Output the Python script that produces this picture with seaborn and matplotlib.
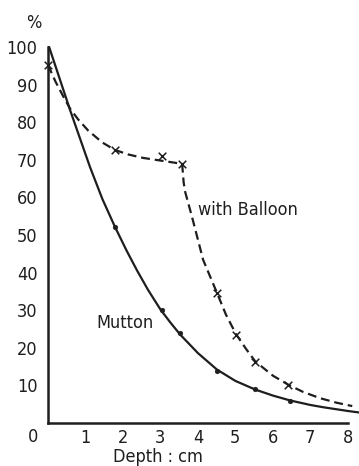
import matplotlib
matplotlib.use("Agg")
import matplotlib.pyplot as plt
import matplotlib.font_manager as fm
import seaborn as sns
import pandas as pd

# ---- data ----
mutton_curve_x = [0.03, 0.59, 1.12, 1.45, 1.79, 2.1, 2.38, 2.67, 3.0, 3.26, 3.52, 4.0, 4.51, 5.0, 5.53, 6.0, 6.46, 7.0, 7.34, 8.0, 8.3]
mutton_curve_y = [100, 83.2, 68.1, 59.6, 52.1, 45.8, 40.5, 35.4, 30.2, 26.8, 23.6, 18.6, 14.2, 11.2, 8.9, 7.3, 6.0, 4.8, 4.2, 3.2, 2.8]
mutton_pts_x = [1.79, 3.05, 3.52, 4.51, 5.53, 6.46]
mutton_pts_y = [52.1, 30.0, 23.9, 13.8, 9.0, 5.9]

balloon_curve_x = [0.0, 0.2, 0.4, 0.59, 0.8, 1.07, 1.45, 1.79, 2.15, 2.54, 3.0, 3.4, 3.58, 3.62, 3.66, 3.77, 3.87, 4.14, 4.51, 4.75, 5.02, 5.3, 5.53, 6.0, 6.41, 6.8, 7.26, 7.7, 8.12]
balloon_curve_y = [95.2, 90.8, 87.0, 83.6, 80.8, 77.8, 74.6, 72.6, 71.4, 70.5, 69.8, 69.2, 68.9, 64.0, 61.5, 57.5, 53.8, 43.4, 34.6, 28.8, 23.6, 19.5, 16.4, 12.6, 10.2, 8.3, 6.6, 5.4, 4.5]
balloon_pts_x = [0.0, 1.79, 3.05, 3.58, 4.51, 5.02, 5.53, 6.41]
balloon_pts_y = [95.2, 72.6, 71.0, 68.9, 34.6, 23.4, 16.2, 10.1]

x_ticks = [1, 2, 3, 4, 5, 6, 7, 8]
y_ticks = [10, 20, 30, 40, 50, 60, 70, 80, 90, 100]

sns.set_style("white")

# pick a condensed sans if one is installed
_names = {f.name for f in fm.fontManager.ttflist}
_dejavu_cond = any(f.name in ("DejaVu Sans", "DejaVu Sans Condensed") and f.stretch == "condensed"
                   for f in fm.fontManager.ttflist)
if "Liberation Sans Narrow" in _names:
    plt.rcParams['font.family'] = ['Liberation Sans Narrow', 'DejaVu Sans']
    FS = 15
elif "DejaVu Sans Condensed" in _names:
    plt.rcParams['font.family'] = ['DejaVu Sans Condensed', 'DejaVu Sans']
    plt.rcParams['font.stretch'] = 'condensed'
    FS = 13
elif _dejavu_cond:
    plt.rcParams['font.family'] = ['DejaVu Sans']
    plt.rcParams['font.stretch'] = 'condensed'
    FS = 13
else:
    plt.rcParams['font.family'] = ['Liberation Sans', 'DejaVu Sans']
    FS = 13

INK = "#1e1e1e"

fig = plt.figure(figsize=(3.59, 4.66), dpi=100)
ax = fig.add_axes([48 / 359, 43 / 466, 1 - 48 / 359, 376 / 466])

mc = pd.DataFrame({"x": mutton_curve_x, "y": mutton_curve_y})
bc = pd.DataFrame({"x": balloon_curve_x, "y": balloon_curve_y})
mp = pd.DataFrame({"x": mutton_pts_x, "y": mutton_pts_y})
bp = pd.DataFrame({"x": balloon_pts_x, "y": balloon_pts_y})

sns.lineplot(data=mc, x="x", y="y", ax=ax, color=INK, lw=1.6, sort=False,
             estimator=None, clip_on=False)
sns.lineplot(data=bc, x="x", y="y", ax=ax, color=INK, lw=1.6, sort=False,
             estimator=None, clip_on=False, dashes=False, linestyle=(0, (4, 2.2)))
sns.scatterplot(data=mp, x="x", y="y", ax=ax, color=INK, s=12, marker="o",
                edgecolor=INK, zorder=5, clip_on=False)
sns.scatterplot(data=bp, x="x", y="y", ax=ax, color=INK, s=30, marker="x",
                linewidth=1.1, zorder=5, clip_on=False)

ax.set_xlim(0, 8.3)
ax.set_ylim(0, 100)
for s in ["top", "right"]:
    ax.spines[s].set_visible(False)
for s in ["left", "bottom"]:
    ax.spines[s].set_color(INK)
    ax.spines[s].set_linewidth(1.8)
ax.spines["bottom"].set_bounds(0, 8)

ax.set_xticks(x_ticks)
ax.set_xticklabels([str(t) for t in x_ticks])
ax.set_yticks(y_ticks)
ax.set_yticklabels([str(t) for t in y_ticks])
ax.tick_params(axis="x", direction="in", length=6, width=1.3, color=INK,
               labelsize=FS, labelcolor=INK, pad=4.5)
ax.tick_params(axis="y", direction="out", length=7.5, width=1.3, color=INK,
               labelsize=FS, labelcolor=INK, pad=0)
ax.set_xlabel("")
ax.set_ylabel("")

ax.text(-15 / 37.45, -3.8, "0", ha="center", va="center", fontsize=FS, color=INK, clip_on=False)
ax.text(-14 / 37.45, 106.4, "%", ha="center", va="center", fontsize=FS, color=INK, clip_on=False)
ax.text(4.0, 56.6, "with Balloon", ha="left", va="center", fontsize=FS, color=INK)
ax.text(1.28, 26.6, "Mutton", ha="left", va="center", fontsize=FS, color=INK)
ax.text(2.94, -11.35, "Depth : cm", ha="center", va="bottom", fontsize=FS, color=INK, clip_on=False)

fig.savefig("out.png", dpi=100, facecolor="white")
